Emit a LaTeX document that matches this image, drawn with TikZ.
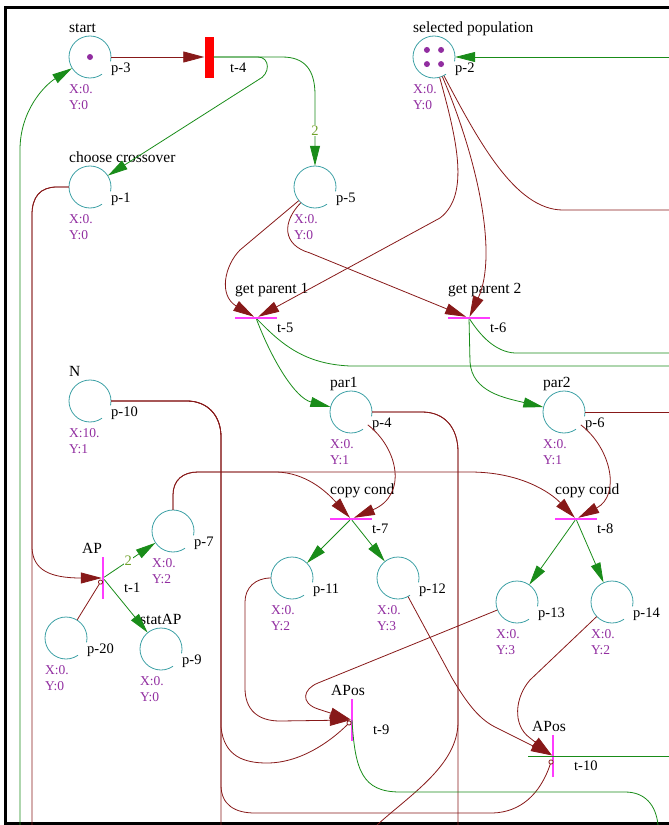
\documentclass[tikz,border=0pt]{standalone}
\usepackage{fontspec}
\setmainfont{Liberation Serif}
\usetikzlibrary{arrows.meta,positioning}
\definecolor{lagoon}{RGB}{60,160,165}
\definecolor{rust}{RGB}{135,25,25}
\definecolor{fern}{RGB}{25,140,25}
\definecolor{orchid}{RGB}{255,60,255}
\definecolor{plum}{RGB}{145,45,160}
\definecolor{moss}{RGB}{110,160,40}

\begin{document}
\begin{tikzpicture}[x=1pt,y=-1pt,
  place/.style={circle,minimum size=42pt,inner sep=0pt},
  trans/.style={fill=orchid,inner sep=0pt},
  tname/.style={font=\fontsize{15.5}{16}\selectfont,inner sep=0pt,anchor=base west},
  tid/.style={font=\fontsize{14.5}{16}\selectfont,inner sep=0pt,anchor=base west},
  tcoord/.style={font=\fontsize{13.5}{16}\selectfont,text=plum,inner sep=0pt,anchor=base west},
  wt/.style={font=\fontsize{14.5}{16}\selectfont,text=moss,fill=white,inner sep=1pt},
  inwire/.style={draw=rust,line width=0.8pt},
  outwire/.style={draw=fern,line width=0.8pt},
  inarc/.style={inwire,-{Triangle[length=21pt,width=11pt]}},
  outarc/.style={outwire,-{Triangle[length=20pt,width=10pt]}},
  readarc/.style={inwire,-{Circle[length=5pt,fill=white]}}]
  \useasboundingbox (0,0) rectangle (669,825);
  \draw[line width=3pt] (669,7.5) -- (5.5,7.5) -- (5.5,823) -- (669,823);

  \foreach \n/\x/\y/\t/\X/\Y in {3/90/57/start/0./0,1/90/187/choose crossover/0./0,5/315/187//0./0,
    2/434/57/selected population/0./0,10/90/401/N/10./1,4/351/412/par1/0./1,6/564/412/par2/0./1,
    7/173/531//0./2,20/66/638//0./0,9/161/649/statAP/0./0,11/292/578//0./2,12/398/578//0./3,
    13/517/602//0./3,14/612/602//0./2}{
    \node[place] (p\n) at (\x,\y) {};
    \draw[lagoon,line width=0.8pt] ([shift={(-12:21pt)}]p\n.center) arc[start angle=-12,end angle=305,radius=21pt];
    \node[tname] at ([shift={(-21pt,25pt)}]p\n.center) {\t};
    \node[tid] at ([shift={(21pt,-15pt)}]p\n.center) {p-\n};
    \node[tcoord] at ([shift={(-21pt,-36pt)}]p\n.center) {X:\X};
    \node[tcoord] at ([shift={(-21pt,-52pt)}]p\n.center) {Y:\Y};
  }
  \fill[plum] (p3.center) circle[radius=3pt];
  \foreach \a in {45,135,225,315}
    \fill[plum] ([shift={(\a:10pt)}]p2.center) circle[radius=3pt];

  \node[fill=red,minimum width=9pt,minimum height=41pt,inner sep=0pt] (t4) at (209,57) {};
  \node[tid] at ([shift={(21pt,-15pt)}]t4.center) {t-4};
  \foreach \n/\x/\y/\w/\h/\t in {5/256/318/42/2/get parent 1,6/469/318/42/2/get parent 2,
    7/351/519/42/2/copy cond,8/576/519/42/2/copy cond,1/103/578/2/42/AP,9/352/720/2/42/APos,
    10/553/756/2/42/APos}{
    \node[trans,minimum width=\w pt,minimum height=\h pt] (t\n) at (\x,\y) {};
    \node[tname] at ([shift={(-21pt,25pt)}]t\n.center) {\t};
    \node[tid] at ([shift={(21pt,-14pt)}]t\n.center) {t-\n};
  }

  \coordinate (eR1) at (669,57);
  \coordinate (eR2) at (669,210);
  \coordinate (eR3) at (669,366);
  \coordinate (eR4) at (669,353);
  \coordinate (eR5) at (669,412);
  \coordinate (eR6) at (669,756);
  \coordinate (eB1) at (20,825);
  \coordinate (eB2) at (32,825);
  \coordinate (eB3) at (221,825);
  \coordinate (eB4) at (458,825);
  \coordinate (eB5) at (377,825);
  \coordinate (eB6) at (658,825);

  \draw[inarc] (p3) -- (t4);
  \draw[outarc] (t4) -- (282,57) .. controls (305,57) and (315,70) .. (315,95) -- node[wt]{2} (p5);
  \draw[outarc] (t4) -- (258,57) .. controls (270,57) and (271,74) .. (258,80) -- (p1);
  \draw[outarc] (eB1) -- (20,150) .. controls (20,110) and (45,85) .. (p3);
  \draw[inwire] (p1) -- (57,187) .. controls (40,187) and (32,197) .. (32,215) -- (eB2);
  \draw[inarc] (p1) -- (57,187) .. controls (40,187) and (32,197) .. (32,215) -- (32,548) .. controls (33,570) and (50,578) .. (t1);
  \draw[readarc] (p20) -- (t1);
  \draw[outarc] (t1) -- node[wt,pos=0.47]{2} (p7);
  \draw[outarc] (t1) -- (p9);
  \draw[inarc] (p7) -- (173,495) .. controls (173,480) and (183,472) .. (198,472) -- (470,472) .. controls (520,472) and (550,492) .. (t8);
  \draw[inarc] (p7) -- (173,495) .. controls (173,480) and (183,472) .. (198,472) -- (277,472) .. controls (305,473) and (325,490) .. (t7);

  \draw[inwire] (p10) -- (187,401) .. controls (207,401) and (221,415) .. (221,437) -- (eB3);
  \draw[readarc] (p10) -- (187,401) .. controls (207,401) and (221,415) .. (221,437) -- (221,727) .. controls (224,757) and (245,763) .. (267,763) .. controls (300,763) and (330,742) .. (t9);
  \draw[readarc] (p10) -- (187,401) .. controls (207,401) and (221,415) .. (221,437) -- (221,785) .. controls (221,805) and (235,813) .. (255,813) -- (493,813) .. controls (520,812) and (540,795) .. (t10);

  \draw[inarc] (p2) .. controls (457,140) and (470,195) .. (440,218) -- (t5);
  \draw[inarc] (p2) .. controls (478,160) and (498,255) .. (t6);
  \draw[inwire] (p2) .. controls (478,140) and (515,210) .. (563,210) -- (eR2);
  \draw[outarc] (eR1) -- (p2);

  \draw[inarc] (p5) -- (240,250) .. controls (225,265) and (218,295) .. (t5);
  \draw[inarc] (p5.228) .. controls (282,222) and (282,245) .. (310,253) -- (t6);

  \draw[outarc] (t5) .. controls (272,360) and (295,398) .. (p4);
  \draw[outwire] (t5) .. controls (282,345) and (305,364) .. (350,366) -- (eR3);
  \draw[outarc] (t6) -- (470,362) .. controls (472,392) and (505,398) .. (p6);
  \draw[outwire] (t6) .. controls (480,335) and (495,352) .. (515,353) -- (eR4);

  \draw[inarc] (p4) .. controls (398,448) and (408,495) .. (t7);
  \draw[inwire] (p4) -- (422,412) .. controls (445,412) and (458,428) .. (458,452) -- (eB4);
  \draw[inwire] (p4) -- (422,412) .. controls (445,412) and (458,428) .. (458,452) -- (458,722) .. controls (458,765) and (410,795) .. (eB5);
  \draw[inarc] (p6) .. controls (611,448) and (621,495) .. (t8);
  \draw[inwire] (p6) -- (eR5);

  \draw[outarc] (t7) -- (p11);
  \draw[outarc] (t7) -- (p12);
  \draw[outarc] (t8) -- (p13);
  \draw[outarc] (t8) -- (p14);

  \draw[inarc] (p11) .. controls (255,578) and (245,588) .. (245,602) -- (245,688) .. controls (245,710) and (258,721) .. (280,721) -- (t9);
  \draw[inarc] (p13) -- (318,683) .. controls (303,689) and (300,703) .. (318,709) -- (t9);
  \draw[inarc] (p12) -- (452,678) .. controls (468,705) and (480,720) .. (497,728) -- (t10);
  \draw[inarc] (p14) -- (530,680) .. controls (515,697) and (512,725) .. (530,738) -- (t10);

  \draw[outwire] (t9.center) .. controls (355,770) and (362,792) .. (400,792) -- (625,792) .. controls (645,792) and (656,805) .. (eB6);
  \draw[outwire] ([xshift=-25pt]t10.center) -- (eR6);
\end{tikzpicture}
\end{document}
